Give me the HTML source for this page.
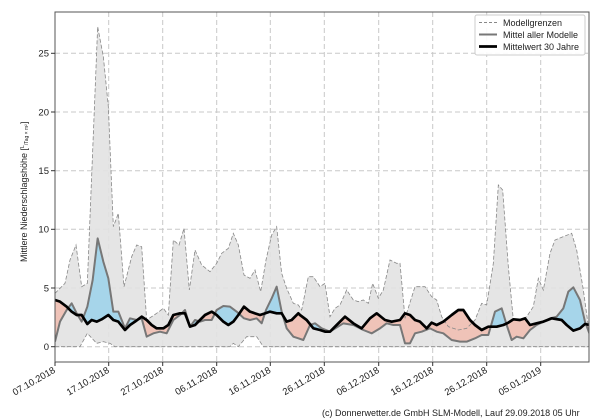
<!DOCTYPE html>
<html><head><meta charset="utf-8"><style>
body{margin:0;background:#fff;}
svg{display:block;font-family:"Liberation Sans","DejaVu Sans",sans-serif;}
</style></head><body>
<svg width="600" height="420" viewBox="0 0 600 420" xmlns="http://www.w3.org/2000/svg">
<defs>
<clipPath id="plot"><rect x="55" y="12" width="534" height="350"/></clipPath>
<clipPath id="aboveClim"><polygon points="165,0 165,900 180,905 200,920 215,935 230,945 245,945 262,972 275,960 290,965 305,958 325,945 340,960 355,965 375,990 390,975 405,965 425,950 440,960 455,975 470,985 490,985 505,975 520,945 540,940 555,940 570,980 585,975 600,960 615,945 635,935 650,945 670,965 685,975 700,965 715,945 732,920 750,935 765,940 780,945 795,940 810,935 830,940 845,940 860,965 875,960 895,940 900,945 920,960 940,985 960,990 975,995 990,995 1010,975 1035,950 1060,970 1085,985 1110,955 1130,940 1155,960 1175,965 1200,960 1215,940 1230,945 1245,960 1260,965 1280,985 1295,968 1310,975 1330,965 1355,945 1375,930 1390,930 1410,960 1425,975 1445,990 1465,980 1490,980 1510,975 1525,968 1540,958 1560,960 1575,955 1590,975 1610,970 1630,965 1655,955 1685,960 1700,975 1720,992 1740,985 1755,972 1768,975 1768,0"/></clipPath>
<clipPath id="aboveMean"><polygon points="165,0 165,1025 180,965 200,930 215,910 230,940 245,965 262,920 278,840 293,715 310,785 325,835 340,935 355,935 375,985 390,955 410,960 425,955 440,1010 460,1000 480,995 500,1000 520,960 540,945 555,930 570,980 585,960 600,965 615,960 635,960 650,930 670,918 690,920 710,935 732,955 750,960 770,955 785,970 798,930 815,895 830,860 845,935 860,985 880,1010 895,1015 910,1020 930,975 945,970 965,985 990,995 1030,970 1060,975 1090,990 1115,1000 1140,985 1160,970 1180,975 1200,975 1215,1030 1230,1030 1245,1000 1265,995 1290,985 1310,995 1330,1000 1355,1020 1380,1025 1400,1025 1425,1015 1445,1005 1465,1005 1485,935 1505,925 1520,975 1535,1020 1550,1010 1570,1015 1590,990 1610,975 1630,965 1650,955 1670,950 1690,925 1705,875 1720,862 1740,900 1755,965 1768,1000 1768,0"/></clipPath>
</defs>
<rect x="55" y="12" width="534" height="350" fill="#fff"/>
<g stroke="#c8c8c8" stroke-width="1" stroke-dasharray="5,3">
<line x1="55" x2="589" y1="346.7" y2="346.7"/><line x1="55" x2="589" y1="288" y2="288"/><line x1="55" x2="589" y1="229.3" y2="229.3"/><line x1="55" x2="589" y1="170.7" y2="170.7"/><line x1="55" x2="589" y1="112" y2="112"/><line x1="55" x2="589" y1="53.3" y2="53.3"/>
<line y1="12" y2="362" x1="108.7" x2="108.7"/><line y1="12" y2="362" x1="162.7" x2="162.7"/><line y1="12" y2="362" x1="216.7" x2="216.7"/><line y1="12" y2="362" x1="270.3" x2="270.3"/><line y1="12" y2="362" x1="324.3" x2="324.3"/><line y1="12" y2="362" x1="378.7" x2="378.7"/><line y1="12" y2="362" x1="432.7" x2="432.7"/><line y1="12" y2="362" x1="486.7" x2="486.7"/><line y1="12" y2="362" x1="540.7" x2="540.7"/>
</g>
<g clip-path="url(#plot)">
<g transform="scale(0.3333333)">
<polygon fill="#e2e2e2" fill-opacity="0.9" points="165,880 195,850 210,780 228,735 245,860 262,850 293,80 310,170 325,320 340,680 355,640 372,860 395,770 410,735 425,740 440,960 470,940 490,925 505,945 520,720 537,735 552,685 568,870 585,750 605,795 630,815 650,790 665,760 685,745 700,700 715,735 732,825 750,835 765,810 782,875 798,780 815,705 830,680 845,820 860,865 880,910 895,915 905,930 925,830 940,830 960,860 975,850 990,950 1005,925 1020,915 1040,870 1060,900 1075,905 1090,900 1105,910 1118,850 1135,895 1150,870 1170,780 1190,790 1200,790 1215,955 1245,860 1275,860 1295,890 1310,900 1325,950 1345,980 1375,990 1400,985 1425,960 1445,910 1460,915 1480,790 1495,555 1508,570 1525,800 1540,960 1560,960 1580,950 1600,920 1615,835 1630,870 1650,760 1665,720 1690,710 1715,700 1730,750 1750,870 1768,1000 1768,1040 790,1040 770,1010 740,1010 715,1040 700,1030 690,1040 345,1040 330,1030 310,1025 290,1030 262,1000 240,1040 165,1040"/>
<g clip-path="url(#aboveClim)"><polygon fill="#a6d5ea" points="165,1200 165,1025 180,965 200,930 215,910 230,940 245,965 262,920 278,840 293,715 310,785 325,835 340,935 355,935 375,985 390,955 410,960 425,955 440,1010 460,1000 480,995 500,1000 520,960 540,945 555,930 570,980 585,960 600,965 615,960 635,960 650,930 670,918 690,920 710,935 732,955 750,960 770,955 785,970 798,930 815,895 830,860 845,935 860,985 880,1010 895,1015 910,1020 930,975 945,970 965,985 990,995 1030,970 1060,975 1090,990 1115,1000 1140,985 1160,970 1180,975 1200,975 1215,1030 1230,1030 1245,1000 1265,995 1290,985 1310,995 1330,1000 1355,1020 1380,1025 1400,1025 1425,1015 1445,1005 1465,1005 1485,935 1505,925 1520,975 1535,1020 1550,1010 1570,1015 1590,990 1610,975 1630,965 1650,955 1670,950 1690,925 1705,875 1720,862 1740,900 1755,965 1768,1000 1768,1200"/></g>
<g clip-path="url(#aboveMean)"><polygon fill="#efc3b8" points="165,1200 165,900 180,905 200,920 215,935 230,945 245,945 262,972 275,960 290,965 305,958 325,945 340,960 355,965 375,990 390,975 405,965 425,950 440,960 455,975 470,985 490,985 505,975 520,945 540,940 555,940 570,980 585,975 600,960 615,945 635,935 650,945 670,965 685,975 700,965 715,945 732,920 750,935 765,940 780,945 795,940 810,935 830,940 845,940 860,965 875,960 895,940 900,945 920,960 940,985 960,990 975,995 990,995 1010,975 1035,950 1060,970 1085,985 1110,955 1130,940 1155,960 1175,965 1200,960 1215,940 1230,945 1245,960 1260,965 1280,985 1295,968 1310,975 1330,965 1355,945 1375,930 1390,930 1410,960 1425,975 1445,990 1465,980 1490,980 1510,975 1525,968 1540,958 1560,960 1575,955 1590,975 1610,970 1630,965 1655,955 1685,960 1700,975 1720,992 1740,985 1755,972 1768,975 1768,1200"/></g>
<g fill="none" stroke="#888" stroke-width="2.4" stroke-dasharray="12,6">
<polyline points="165,880 195,850 210,780 228,735 245,860 262,850 293,80 310,170 325,320 340,680 355,640 372,860 395,770 410,735 425,740 440,960 470,940 490,925 505,945 520,720 537,735 552,685 568,870 585,750 605,795 630,815 650,790 665,760 685,745 700,700 715,735 732,825 750,835 765,810 782,875 798,780 815,705 830,680 845,820 860,865 880,910 895,915 905,930 925,830 940,830 960,860 975,850 990,950 1005,925 1020,915 1040,870 1060,900 1075,905 1090,900 1105,910 1118,850 1135,895 1150,870 1170,780 1190,790 1200,790 1215,955 1245,860 1275,860 1295,890 1310,900 1325,950 1345,980 1375,990 1400,985 1425,960 1445,910 1460,915 1480,790 1495,555 1508,570 1525,800 1540,960 1560,960 1580,950 1600,920 1615,835 1630,870 1650,760 1665,720 1690,710 1715,700 1730,750 1750,870 1768,1000"/>
<polyline points="165,1040 240,1040 262,1000 290,1030 310,1025 330,1030 345,1040 690,1040 700,1030 715,1040 740,1010 770,1010 790,1040 1768,1040"/>
</g>
<polyline fill="none" stroke="#777" stroke-width="6" stroke-linejoin="round" points="165,1025 180,965 200,930 215,910 230,940 245,965 262,920 278,840 293,715 310,785 325,835 340,935 355,935 375,985 390,955 410,960 425,955 440,1010 460,1000 480,995 500,1000 520,960 540,945 555,930 570,980 585,960 600,965 615,960 635,960 650,930 670,918 690,920 710,935 732,955 750,960 770,955 785,970 798,930 815,895 830,860 845,935 860,985 880,1010 895,1015 910,1020 930,975 945,970 965,985 990,995 1030,970 1060,975 1090,990 1115,1000 1140,985 1160,970 1180,975 1200,975 1215,1030 1230,1030 1245,1000 1265,995 1290,985 1310,995 1330,1000 1355,1020 1380,1025 1400,1025 1425,1015 1445,1005 1465,1005 1485,935 1505,925 1520,975 1535,1020 1550,1010 1570,1015 1590,990 1610,975 1630,965 1650,955 1670,950 1690,925 1705,875 1720,862 1740,900 1755,965 1768,1000"/>
<polyline fill="none" stroke="#000" stroke-width="8" stroke-linejoin="round" points="165,900 180,905 200,920 215,935 230,945 245,945 262,972 275,960 290,965 305,958 325,945 340,960 355,965 375,990 390,975 405,965 425,950 440,960 455,975 470,985 490,985 505,975 520,945 540,940 555,940 570,980 585,975 600,960 615,945 635,935 650,945 670,965 685,975 700,965 715,945 732,920 750,935 765,940 780,945 795,940 810,935 830,940 845,940 860,965 875,960 895,940 900,945 920,960 940,985 960,990 975,995 990,995 1010,975 1035,950 1060,970 1085,985 1110,955 1130,940 1155,960 1175,965 1200,960 1215,940 1230,945 1245,960 1260,965 1280,985 1295,968 1310,975 1330,965 1355,945 1375,930 1390,930 1410,960 1425,975 1445,990 1465,980 1490,980 1510,975 1525,968 1540,958 1560,960 1575,955 1590,975 1610,970 1630,965 1655,955 1685,960 1700,975 1720,992 1740,985 1755,972 1768,975"/>
</g>
</g>
<rect x="55" y="12" width="534" height="350" fill="none" stroke="#555" stroke-width="1"/>
<g stroke="#333"><line x1="51" x2="55" y1="346.7" y2="346.7"/><line x1="51" x2="55" y1="288" y2="288"/><line x1="51" x2="55" y1="229.3" y2="229.3"/><line x1="51" x2="55" y1="170.7" y2="170.7"/><line x1="51" x2="55" y1="112" y2="112"/><line x1="51" x2="55" y1="53.3" y2="53.3"/>
<line y1="362" y2="366" x1="55" x2="55"/><line y1="362" y2="366" x1="108.7" x2="108.7"/><line y1="362" y2="366" x1="162.7" x2="162.7"/><line y1="362" y2="366" x1="216.7" x2="216.7"/><line y1="362" y2="366" x1="270.3" x2="270.3"/><line y1="362" y2="366" x1="324.3" x2="324.3"/><line y1="362" y2="366" x1="378.7" x2="378.7"/><line y1="362" y2="366" x1="432.7" x2="432.7"/><line y1="362" y2="366" x1="486.7" x2="486.7"/><line y1="362" y2="366" x1="540.7" x2="540.7"/></g>
<g font-size="9.5" fill="#222" text-anchor="end">
<text x="49" y="350">0</text><text x="49" y="291.3">5</text><text x="49" y="232.6">10</text><text x="49" y="174">15</text><text x="49" y="115.3">20</text><text x="49" y="56.6">25</text>
</g>
<g font-size="9.5" fill="#222" text-anchor="end">
<text transform="translate(56,372) rotate(-30)">07.10.2018</text>
<text transform="translate(110,372) rotate(-30)">17.10.2018</text>
<text transform="translate(164,372) rotate(-30)">27.10.2018</text>
<text transform="translate(218,372) rotate(-30)">06.11.2018</text>
<text transform="translate(271.5,372) rotate(-30)">16.11.2018</text>
<text transform="translate(325.5,372) rotate(-30)">26.11.2018</text>
<text transform="translate(380,372) rotate(-30)">06.12.2018</text>
<text transform="translate(434,372) rotate(-30)">16.12.2018</text>
<text transform="translate(488,372) rotate(-30)">26.12.2018</text>
<text transform="translate(542,372) rotate(-30)">05.01.2019</text>
</g>
<text transform="translate(27,262) rotate(-90)" font-size="9" fill="#222">Mittlere Niederschlagshöhe [<tspan font-size="5" dy="-3">L</tspan><tspan font-size="5" dy="4">/Tag × m²</tspan><tspan dy="-1">]</tspan></text>
<rect x="475" y="15" width="110" height="40" fill="#fff" fill-opacity="0.9" stroke="#ccc" stroke-width="1" rx="2"/>
<g font-size="9" fill="#222">
<line x1="479" x2="497" y1="22.5" y2="22.5" stroke="#888" stroke-dasharray="3,2"/><text x="503" y="26">Modellgrenzen</text>
<line x1="479" x2="497" y1="34.5" y2="34.5" stroke="#777" stroke-width="2"/><text x="503" y="38">Mittel aller Modelle</text>
<line x1="479" x2="497" y1="46.5" y2="46.5" stroke="#000" stroke-width="2.7"/><text x="503" y="50">Mittelwert 30 Jahre</text>
</g>
<text x="322" y="416" font-size="9" fill="#222">(c) Donnerwetter.de GmbH SLM-Modell, Lauf 29.09.2018 05 Uhr</text>
</svg>
</body></html>
